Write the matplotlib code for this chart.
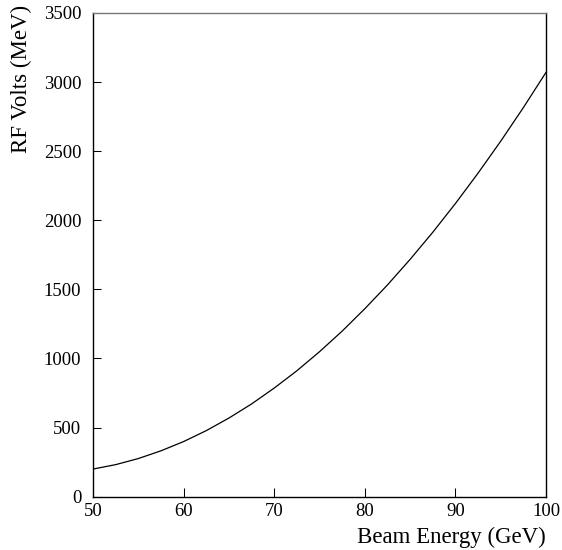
import matplotlib
matplotlib.use("Agg")
import matplotlib.pyplot as plt
import numpy as np


# beam energy (GeV) and RF voltage (MeV)
beam_energy = [50, 52.5, 55, 57.5, 60, 62.5, 65, 67.5, 70, 72.5, 75,
               77.5, 80, 82.5, 85, 87.5, 90, 92.5, 95, 97.5, 100]
rf_volts = [200, 232, 276, 332, 399, 478, 569, 671, 786, 911, 1049,
            1198, 1360, 1532, 1717, 1913, 2121, 2341, 2572, 2815, 3070]

x_ticks = [50, 60, 70, 80, 90, 100]
y_ticks = [0, 500, 1000, 1500, 2000, 2500, 3000, 3500]


plt.rcParams['font.family'] = ['Liberation Serif', 'DejaVu Serif']

fig = plt.figure(figsize=(5.62, 5.5), dpi=100)
ax = fig.add_axes([0.1655, 0.0969, 0.806, 0.8795])

ax.plot(beam_energy, rf_volts, color='black', lw=0.9)

ax.set_xlim(50, 100)
ax.set_ylim(0, 3500)
ax.set_xticks(x_ticks)
ax.set_yticks(y_ticks)
ax.tick_params(axis='x', direction='in', length=6.5, width=0.75, pad=4.5,
               labelsize=13.5)
ax.tick_params(axis='y', direction='in', length=6, width=0.75, pad=8.5,
               labelsize=13.5)

for s in ax.spines.values():
    s.set_linewidth(1.0)
    s.set_color('black')
ax.spines['top'].set_color('#777777')

# labels sit at the corners, like the original
fig.text(0.9715, 0.023, 'Beam Energy (GeV)', ha='right', va='center',
         fontsize=16.5)
fig.text(0.038, 0.992, 'RF Volts (MeV)', ha='center', va='top',
         rotation=90, fontsize=16.5)

fig.savefig('out.png', dpi=100)
